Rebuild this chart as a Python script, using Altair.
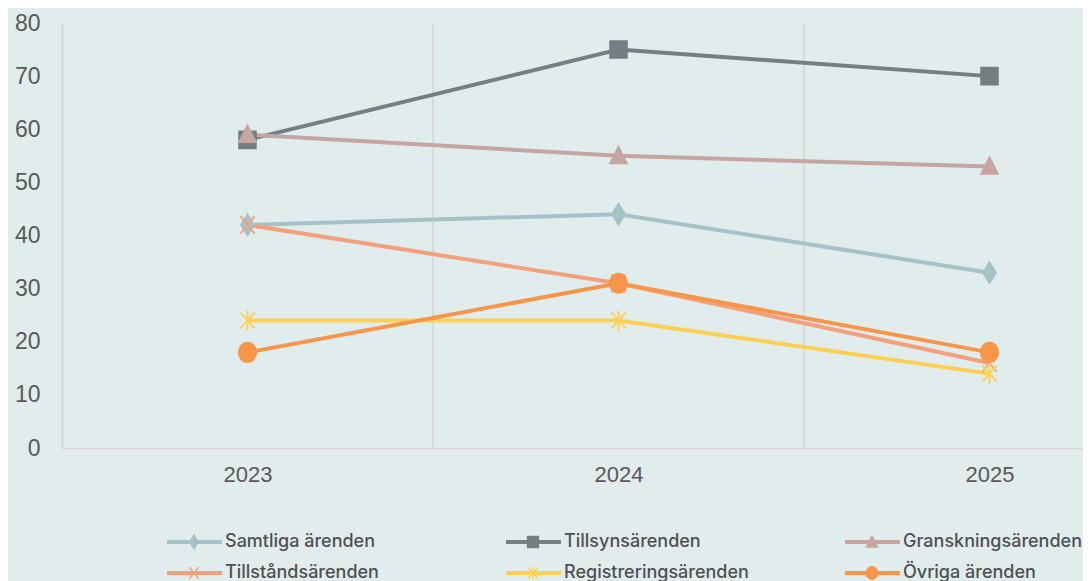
import altair as alt
import pandas as pd

# ---------------- data ----------------
years = [2023, 2024, 2025]
series_names = [
    "Samtliga ärenden",
    "Tillsynsärenden",
    "Granskningsärenden",
    "Tillståndsärenden",
    "Registreringsärenden",
    "Övriga ärenden",
]
samtliga = [42, 44, 33]
tillsyn = [58, 75, 70]
granskning = [59, 55, 53]
tillstand = [42, 31, 16]
registrering = [24, 24, 14]
ovriga = [18, 31, 18]
y_ticks = [0, 10, 20, 30, 40, 50, 60, 70, 80]

values_by_series = [samtliga, tillsyn, granskning, tillstand, registrering, ovriga]

# ---------------- styles ----------------
colors = ["#A5C3C6", "#737F82", "#C6A6A0", "#F2A17C", "#FDD052", "#F7964A"]
shapes = [
    "M0,-1.25L0.78,0L0,1.25L-0.78,0Z",
    "square",
    "M0,-1.1L1,0.9L-1,0.9Z",
    "M-0.85,-1.05L0.85,1.05M-0.85,1.05L0.85,-1.05",
    "M-0.85,-0.95L0.85,0.95M-0.85,0.95L0.85,-0.95M0,-1.2L0,1.2",
    "M0,-1.15C0.6,-1.15 1.05,-0.6 1.05,0C1.05,0.6 0.6,1.15 0,1.15C-0.6,1.15 -1.05,0.6 -1.05,0C-1.05,-0.6 -0.6,-1.15 0,-1.15Z",
]
BG = "#E1ECEC"
GRID = "#D6D6D6"
LABEL = "#595959"

rows = []
for si, (name, vals) in enumerate(zip(series_names, values_by_series)):
    for y, v in zip(years, vals):
        rows.append({"serie": name, "order": si, "year": y, "value": v})
df = pd.DataFrame(rows)

grid_df = pd.DataFrame({"b": [(a + b) / 2 for a, b in zip(years[:-1], years[1:])]})

legend_df = pd.DataFrame(
    {"serie": series_names, "col": [i % 3 for i in range(6)], "row": [i // 3 for i in range(6)]}
)

PX_PER_YEAR = 371.0
W = 1021
H = 425
x_scale = alt.Scale(domain=[years[0] - 0.5, years[0] - 0.5 + W / PX_PER_YEAR], nice=False, zero=False)
y_scale = alt.Scale(domain=[0, 80], nice=False)
color_scale = alt.Scale(domain=series_names, range=colors)
shape_scale = alt.Scale(domain=series_names, range=shapes)

x_axis = alt.Axis(
    values=years, format="d", grid=False, ticks=False, labelPadding=16,
    domainColor=GRID, domainWidth=1.5, labelFont="Liberation Sans", labelFontSize=22,
    labelColor=LABEL, labelFlush=False, title=None,
)
y_axis = alt.Axis(
    values=y_ticks, grid=False, ticks=False, labelPadding=22,
    domainColor=GRID, domainWidth=1.5, labelFont="Liberation Sans", labelFontSize=23,
    labelColor=LABEL, title=None,
)

grid = alt.Chart(grid_df).mark_rule(color=GRID, strokeWidth=1.5).encode(
    x=alt.X("b:Q", scale=x_scale, axis=x_axis)
)

lines = alt.Chart(df).mark_line(strokeWidth=4).encode(
    x=alt.X("year:Q", scale=x_scale, axis=x_axis),
    y=alt.Y("value:Q", scale=y_scale, axis=y_axis),
    color=alt.Color("serie:N", scale=color_scale, legend=None),
    order=alt.Order("order:Q"),
    detail="serie:N",
)

points = alt.Chart(df).mark_point(filled=True, size=280, strokeWidth=1.8, opacity=1).encode(
    x=alt.X("year:Q", scale=x_scale, axis=x_axis),
    y=alt.Y("value:Q", scale=y_scale, axis=y_axis),
    color=alt.Color("serie:N", scale=color_scale, legend=None),
    stroke=alt.Stroke("serie:N", scale=color_scale, legend=None),
    shape=alt.Shape("serie:N", scale=shape_scale, legend=None),
)

main = alt.layer(grid, lines, points).properties(width=W, height=H)

# ---------------- legend panel ----------------
COL_PX = 339.0
lx_scale = alt.Scale(domain=[-105 / COL_PX, -105 / COL_PX + W / COL_PX], nice=False, zero=False)
ly_scale = alt.Scale(domain=[0, 1], reverse=True, nice=False)

leg_base = alt.Chart(legend_df).transform_calculate(
    x0="datum.col", x1="datum.col + 55/339", xm="datum.col + 27/339", xt="datum.col + 58/339"
)
leg_line = leg_base.mark_rule(strokeWidth=4).encode(
    x=alt.X("x0:Q", scale=lx_scale, axis=None),
    x2="x1:Q",
    y=alt.Y("row:Q", scale=ly_scale, axis=None),
    color=alt.Color("serie:N", scale=color_scale, legend=None),
)
leg_pt = leg_base.mark_point(filled=True, size=120, strokeWidth=1.4, opacity=1).encode(
    x=alt.X("xm:Q", scale=lx_scale, axis=None),
    y=alt.Y("row:Q", scale=ly_scale, axis=None),
    color=alt.Color("serie:N", scale=color_scale, legend=None),
    stroke=alt.Stroke("serie:N", scale=color_scale, legend=None),
    shape=alt.Shape("serie:N", scale=shape_scale, legend=None),
)
leg_txt = leg_base.mark_text(align="left", baseline="middle", font="Inter", fontSize=18,
                             fontWeight=500, color="#505050").encode(
    x=alt.X("xt:Q", scale=lx_scale, axis=None),
    y=alt.Y("row:Q", scale=ly_scale, axis=None),
    text="serie:N",
)
legend = alt.layer(leg_line, leg_pt, leg_txt).properties(width=W, height=31)

chart = alt.vconcat(main, legend, spacing=47).properties(
    background=BG,
    padding={"left": 6, "top": 4, "right": 0, "bottom": 0},
).configure_view(stroke=None).configure_concat(spacing=47)

chart.save("out.html", embed_options={"renderer": "svg", "actions": False})
